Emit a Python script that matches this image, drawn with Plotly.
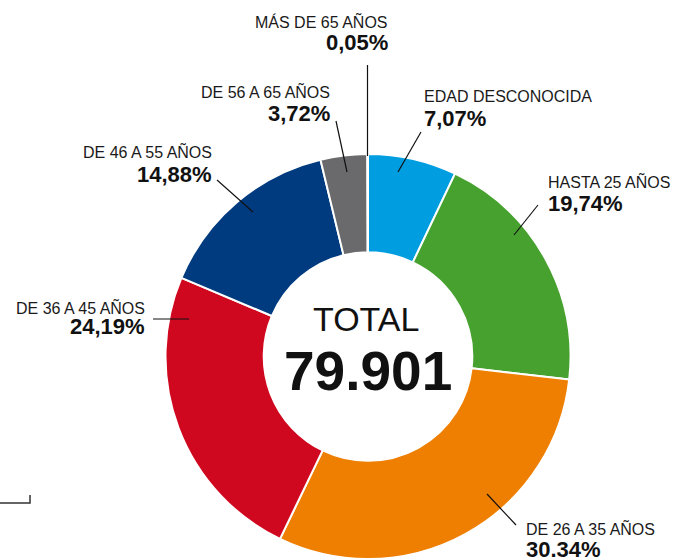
import plotly.graph_objects as go

W, H = 681, 559

# Distribution by age group (percent of total)
groups = ["EDAD DESCONOCIDA", "HASTA 25 AÑOS", "DE 26 A 35 AÑOS", "DE 36 A 45 AÑOS",
          "DE 46 A 55 AÑOS", "DE 56 A 65 AÑOS", "MÁS DE 65 AÑOS"]
shares = [7.07, 19.74, 30.34, 24.19, 14.88, 3.72, 0.05]
colors = ["#009EE0", "#47A12F", "#EE7F00", "#D0081F", "#003A7F", "#6A6A6C", "#8A2A2A"]
total_label = "79.901"

# Label placement (pixel anchor, alignment) and leader lines per group
label_pos = {
    "EDAD DESCONOCIDA": (423, 96, 118, "left"),
    "HASTA 25 AÑOS": (547, 181, 203, "left"),
    "DE 26 A 35 AÑOS": (525, 528, 549, "left"),
    "DE 36 A 45 AÑOS": (146, 307, 327, "right"),
    "DE 46 A 55 AÑOS": (213, 151, 174, "right"),
    "DE 56 A 65 AÑOS": (331, 91, 113, "right"),
    "MÁS DE 65 AÑOS": (389, 21, 43, "right"),
}
leaders = {
    "EDAD DESCONOCIDA": (421, 132, 398, 172),
    "HASTA 25 AÑOS": (538, 205, 514, 235),
    "DE 26 A 35 AÑOS": (487, 494, 516, 525),
    "DE 36 A 45 AÑOS": (153, 319, 189, 319),
    "DE 46 A 55 AÑOS": (217, 180, 253, 212),
    "DE 56 A 65 AÑOS": (336, 121, 347, 172),
    "MÁS DE 65 AÑOS": (367.5, 65, 367.5, 156),
}

cx, cy, r = 368, 356.5, 202.5


def px(x):
    return x / W


def py(y):
    return 1 - y / H


fig = go.Figure(go.Pie(
    labels=groups,
    values=shares,
    sort=False,
    direction="clockwise",
    rotation=0,
    hole=0.515,
    marker=dict(colors=colors, line=dict(color="white", width=2)),
    textinfo="none",
    hoverinfo="label+percent",
    showlegend=False,
    domain=dict(x=[px(cx - r), px(cx + r)], y=[0, (H - cy + r) / H]),
))

annotations = []
shapes = []
for name, val in zip(groups, shares):
    x, y1, y2, side = label_pos[name]
    pct = f"{val:.2f}%".replace(".", ",") if name != "DE 26 A 35 AÑOS" else f"{val:.2f}%"
    annotations.append(dict(x=px(x), y=py(y1), xref="paper", yref="paper", text=name,
                            showarrow=False, xanchor=side, yanchor="middle", borderpad=0,
                            font=dict(family="Liberation Sans, Arial, sans-serif", size=16, color="#1a1a1a")))
    annotations.append(dict(x=px(x), y=py(y2), xref="paper", yref="paper", text=f"<b>{pct}</b>",
                            showarrow=False, xanchor=side, yanchor="middle", borderpad=0,
                            font=dict(family="Liberation Sans, Arial, sans-serif", size=22, color="#111111")))
    x0, y0, x1, y1b = leaders[name]
    shapes.append(dict(type="line", xref="paper", yref="paper",
                       x0=px(x0), y0=py(y0), x1=px(x1), y1=py(y1b),
                       line=dict(color="#111111", width=1.2)))

# Centre total
annotations.append(dict(x=px(366), y=py(319), xref="paper", yref="paper", text="TOTAL",
                        showarrow=False, xanchor="center", yanchor="middle",
                        font=dict(family="Liberation Sans, Arial, sans-serif", size=34, color="#111111")))
annotations.append(dict(x=px(368), y=py(371), xref="paper", yref="paper", text=f"<b>{total_label}</b>",
                        showarrow=False, xanchor="center", yanchor="middle",
                        font=dict(family="Liberation Sans, Arial, sans-serif", size=55, color="#111111")))

# Corner bracket at lower left
shapes.append(dict(type="path", xref="paper", yref="paper",
                   path=f"M {px(0)},{py(503)} L {px(30)},{py(503)} L {px(30)},{py(495)}",
                   line=dict(color="#333333", width=1.5)))

fig.update_layout(
    width=W, height=H,
    margin=dict(l=0, r=0, t=0, b=0),
    paper_bgcolor="white", plot_bgcolor="white",
    annotations=annotations, shapes=shapes,
)

fig.write_html("out.html")
